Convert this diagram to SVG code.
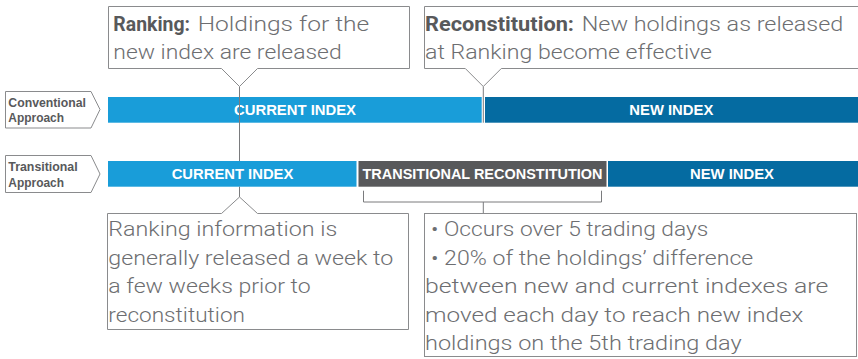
<svg xmlns="http://www.w3.org/2000/svg" width="858" height="359" viewBox="0 0 858 359">
<style>
.box{fill:#fff;stroke:#8a8b8d;stroke-width:1}
.lbl{font-family:"Liberation Sans",Arial,sans-serif;font-weight:bold;font-size:13.5px;fill:#58595b}
.bar{font-family:"Liberation Sans",Arial,sans-serif;font-weight:bold;font-size:15px;fill:#fff}
.t{font-family:Roboto,"Liberation Sans",Arial,sans-serif;font-weight:300;font-size:21px;fill:#6d6e71}
.b{font-family:Roboto,"Liberation Sans",Arial,sans-serif;font-size:20px;font-weight:bold;fill:#58595b}
.conn{fill:none;stroke:#7a7b7d;stroke-width:1}
.lb{fill:#199dd9}.db{fill:#056ba1}.gb{fill:#58595b}
</style>
<rect width="858" height="359" fill="#fff"/>

<g id="label-conventional">
<polygon class="box" points="5.5,91.5 91,91.5 100,109.5 91,128 5.5,128"/>
<text class="lbl" x="8.3" y="106.5" textLength="77.7" lengthAdjust="spacingAndGlyphs">Conventional</text>
<text class="lbl" x="8.3" y="122" textLength="55.7" lengthAdjust="spacingAndGlyphs">Approach</text>
</g>
<g id="label-transitional">
<polygon class="box" points="5.5,155.5 91,155.5 100,174 91,192.5 5.5,192.5"/>
<text class="lbl" x="8.3" y="170.5" textLength="69.4" lengthAdjust="spacingAndGlyphs">Transitional</text>
<text class="lbl" x="8.3" y="186.5" textLength="55.7" lengthAdjust="spacingAndGlyphs">Approach</text>
</g>

<g id="conv-current">
<rect class="lb" x="108" y="97" width="373.7" height="25.7"/>
<text class="bar" x="234" y="115" textLength="122" lengthAdjust="spacingAndGlyphs">CURRENT INDEX</text>
</g>
<g id="conv-new">
<rect class="db" x="485" y="97" width="373" height="25.7"/>
<text class="bar" x="629.3" y="115" textLength="84" lengthAdjust="spacingAndGlyphs">NEW INDEX</text>
</g>
<g id="trans-current">
<rect class="lb" x="108" y="161" width="248.5" height="25.7"/>
<text class="bar" x="171.7" y="179.3" textLength="121.6" lengthAdjust="spacingAndGlyphs">CURRENT INDEX</text>
</g>
<g id="trans-recon">
<rect class="gb" x="358.5" y="161" width="248" height="25.7"/>
<text class="bar" x="362.5" y="179.3" textLength="240" lengthAdjust="spacingAndGlyphs">TRANSITIONAL RECONSTITUTION</text>
</g>
<g id="trans-new">
<rect class="db" x="608" y="161" width="250" height="25.7"/>
<text class="bar" x="690" y="179.3" textLength="84" lengthAdjust="spacingAndGlyphs">NEW INDEX</text>
</g>

<g id="connectors">
<line class="conn" x1="239.5" y1="86.5" x2="239.5" y2="161"/>
<line class="conn" x1="239.5" y1="186.7" x2="239.5" y2="197"/>
<line class="conn" x1="483.3" y1="86.5" x2="483.3" y2="122.7"/>
<polyline class="conn" points="363.5,190.7 363.5,202 601.5,202 601.5,190.7"/>
<line class="conn" x1="483.3" y1="202" x2="483.3" y2="213.5"/>
</g>

<g id="callout-ranking">
<path class="box" d="M108.5,6.5 H409.5 V68.5 H257.5 L239.5,86.5 L221.5,68.5 H108.5 Z"/>
<text class="b" x="113.3" y="30.5" textLength="76.7" lengthAdjust="spacingAndGlyphs">Ranking:</text>
<text class="t" x="197.7" y="30.5" textLength="171.6" lengthAdjust="spacingAndGlyphs">Holdings for the</text>
<text class="t" x="113.3" y="59" textLength="228.4" lengthAdjust="spacingAndGlyphs">new index are released</text>
</g>

<g id="callout-reconstitution">
<path class="box" d="M865,6.5 H424.5 V68.5 H465.3 L483.3,86.5 L501.3,68.5 H865"/>
<text class="b" x="425" y="30.5" textLength="149" lengthAdjust="spacingAndGlyphs">Reconstitution:</text>
<text class="t" x="581.7" y="30.5" textLength="261.6" lengthAdjust="spacingAndGlyphs">New holdings as released</text>
<text class="t" x="425" y="59" textLength="287" lengthAdjust="spacingAndGlyphs">at Ranking become effective</text>
</g>

<g id="note-ranking">
<path class="box" d="M107.5,213.5 H221.5 L239.5,197 L257.5,213.5 H408.5 V329.5 H107.5 Z"/>
<text class="t" x="108.3" y="236" textLength="229" lengthAdjust="spacingAndGlyphs">Ranking information is</text>
<text class="t" x="108.3" y="264.5" textLength="285" lengthAdjust="spacingAndGlyphs">generally released a week to</text>
<text class="t" x="108.3" y="293" textLength="202.4" lengthAdjust="spacingAndGlyphs">a few weeks prior to</text>
<text class="t" x="108.3" y="321.5" textLength="136.7" lengthAdjust="spacingAndGlyphs">reconstitution</text>
</g>

<g id="note-transitional">
<rect class="box" x="424.5" y="213.5" width="432" height="143"/>
<text class="t" x="431" y="236" textLength="277.3" lengthAdjust="spacingAndGlyphs">• Occurs over 5 trading days</text>
<text class="t" x="431" y="264.5" textLength="322.3" lengthAdjust="spacingAndGlyphs">• 20% of the holdings’ difference</text>
<text class="t" x="425" y="293" textLength="403.3" lengthAdjust="spacingAndGlyphs">between new and current indexes are</text>
<text class="t" x="425" y="321.5" textLength="378.3" lengthAdjust="spacingAndGlyphs">moved each day to reach new index</text>
<text class="t" x="425" y="350" textLength="316.7" lengthAdjust="spacingAndGlyphs">holdings on the 5th trading day</text>
</g>
</svg>
